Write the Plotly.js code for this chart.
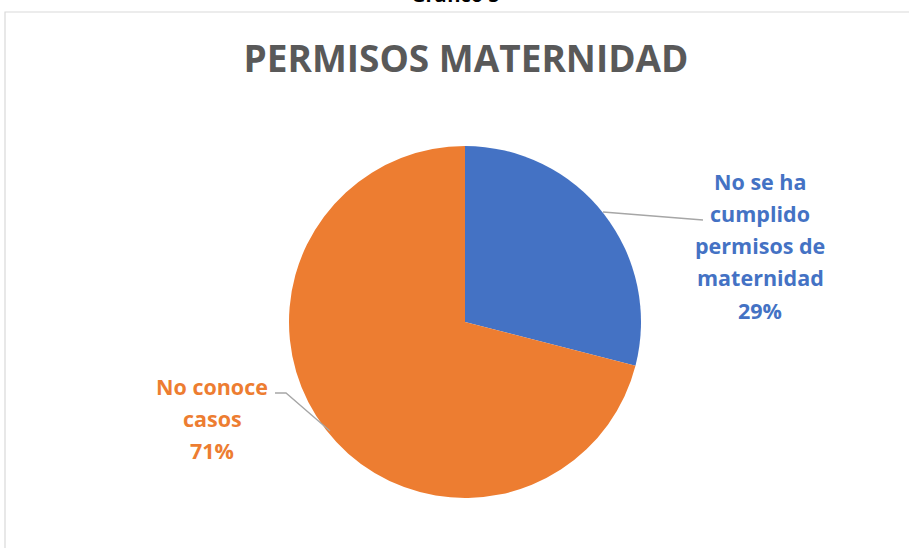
<!DOCTYPE html>
<html>
<head>
<meta charset="utf-8">
<script src="https://cdn.plot.ly/plotly-3.0.1.min.js"></script>
<style>
  body { margin: 0; background: #fff; }
  #chart { width: 909px; height: 548px; }
</style>
</head>
<body>
<div id="chart"></div>
<script>
// slices, in the order Excel draws them (clockwise from 12 o'clock)
const categories = ['No se ha cumplido permisos de maternidad', 'No conoce casos'];
const percents = [29, 71];
const sliceColors = ['#4472C4', '#ED7D31'];

// outside labels, one line each (Excel wraps them like this)
const labelLines = [
  ['No se ha', 'cumplido', 'permisos de', 'maternidad', percents[0] + '%'],
  ['No conoce', 'casos', percents[1] + '%']
];

const W = 909, H = 548;
const px = x => x / W;
const py = y => 1 - y / H;

let pieTrace = {
  type: 'pie',
  labels: categories,
  values: percents,
  sort: false,
  direction: 'clockwise',
  rotation: 0,
  marker: { colors: sliceColors, line: { width: 0 } },
  textinfo: 'none',
  hoverinfo: 'label+percent',
  domain: { x: [px(289), px(641)], y: [py(498), py(146)] },
  showlegend: false
};

// label anchor points (centre of first line) for each slice
const labelPos = [[760, 181], [212, 386]];
const lineGap = 32.3;

let annotations = [];
labelLines.forEach((lines, i) => {
  lines.forEach((txt, j) => {
    annotations.push({
      text: '<b>' + txt + '</b>',
      x: px(labelPos[i][0]), y: py(labelPos[i][1] + j * lineGap),
      xref: 'paper', yref: 'paper',
      xanchor: 'center', yanchor: 'middle',
      showarrow: false,
      font: { family: 'Open Sans, sans-serif', size: 21.5, color: sliceColors[i] }
    });
  });
});

// figure caption, cut off by the top of the page
annotations.push({
  text: '<b>Gráfico 5</b>',
  x: px(455), y: 1, xref: 'paper', yref: 'paper',
  xanchor: 'center', yanchor: 'bottom', yshift: -10,
  showarrow: false,
  font: { family: 'Open Sans, sans-serif', size: 20, color: '#000' }
});

let layout = {
  width: W, height: H,
  margin: { l: 0, r: 0, t: 0, b: 0 },
  paper_bgcolor: '#fff',
  title: {
    text: '<b>PERMISOS MATERNIDAD</b>',
    font: { family: 'Open Sans, sans-serif', size: 37, color: '#595959' },
    x: px(466), xanchor: 'center',
    y: py(59), yanchor: 'middle'
  },
  annotations: annotations,
  shapes: [
    // chart area border
    { type: 'rect', xref: 'paper', yref: 'paper',
      x0: px(5), x1: 1.05, y0: -0.05, y1: py(12),
      line: { color: '#D9D9D9', width: 1.2 }, fillcolor: 'rgba(0,0,0,0)', layer: 'below' },
    // leader lines
    { type: 'path', xref: 'paper', yref: 'paper',
      path: 'M ' + px(603) + ' ' + py(212) + ' L ' + px(703) + ' ' + py(220),
      line: { color: '#A6A6A6', width: 1.3 } },
    { type: 'path', xref: 'paper', yref: 'paper',
      path: 'M ' + px(275) + ' ' + py(393) + ' L ' + px(286) + ' ' + py(393) + ' L ' + px(330) + ' ' + py(431),
      line: { color: '#A6A6A6', width: 1.3 } }
  ]
};

Plotly.newPlot('chart', [pieTrace], layout, { displayModeBar: false });
</script>
</body>
</html>
